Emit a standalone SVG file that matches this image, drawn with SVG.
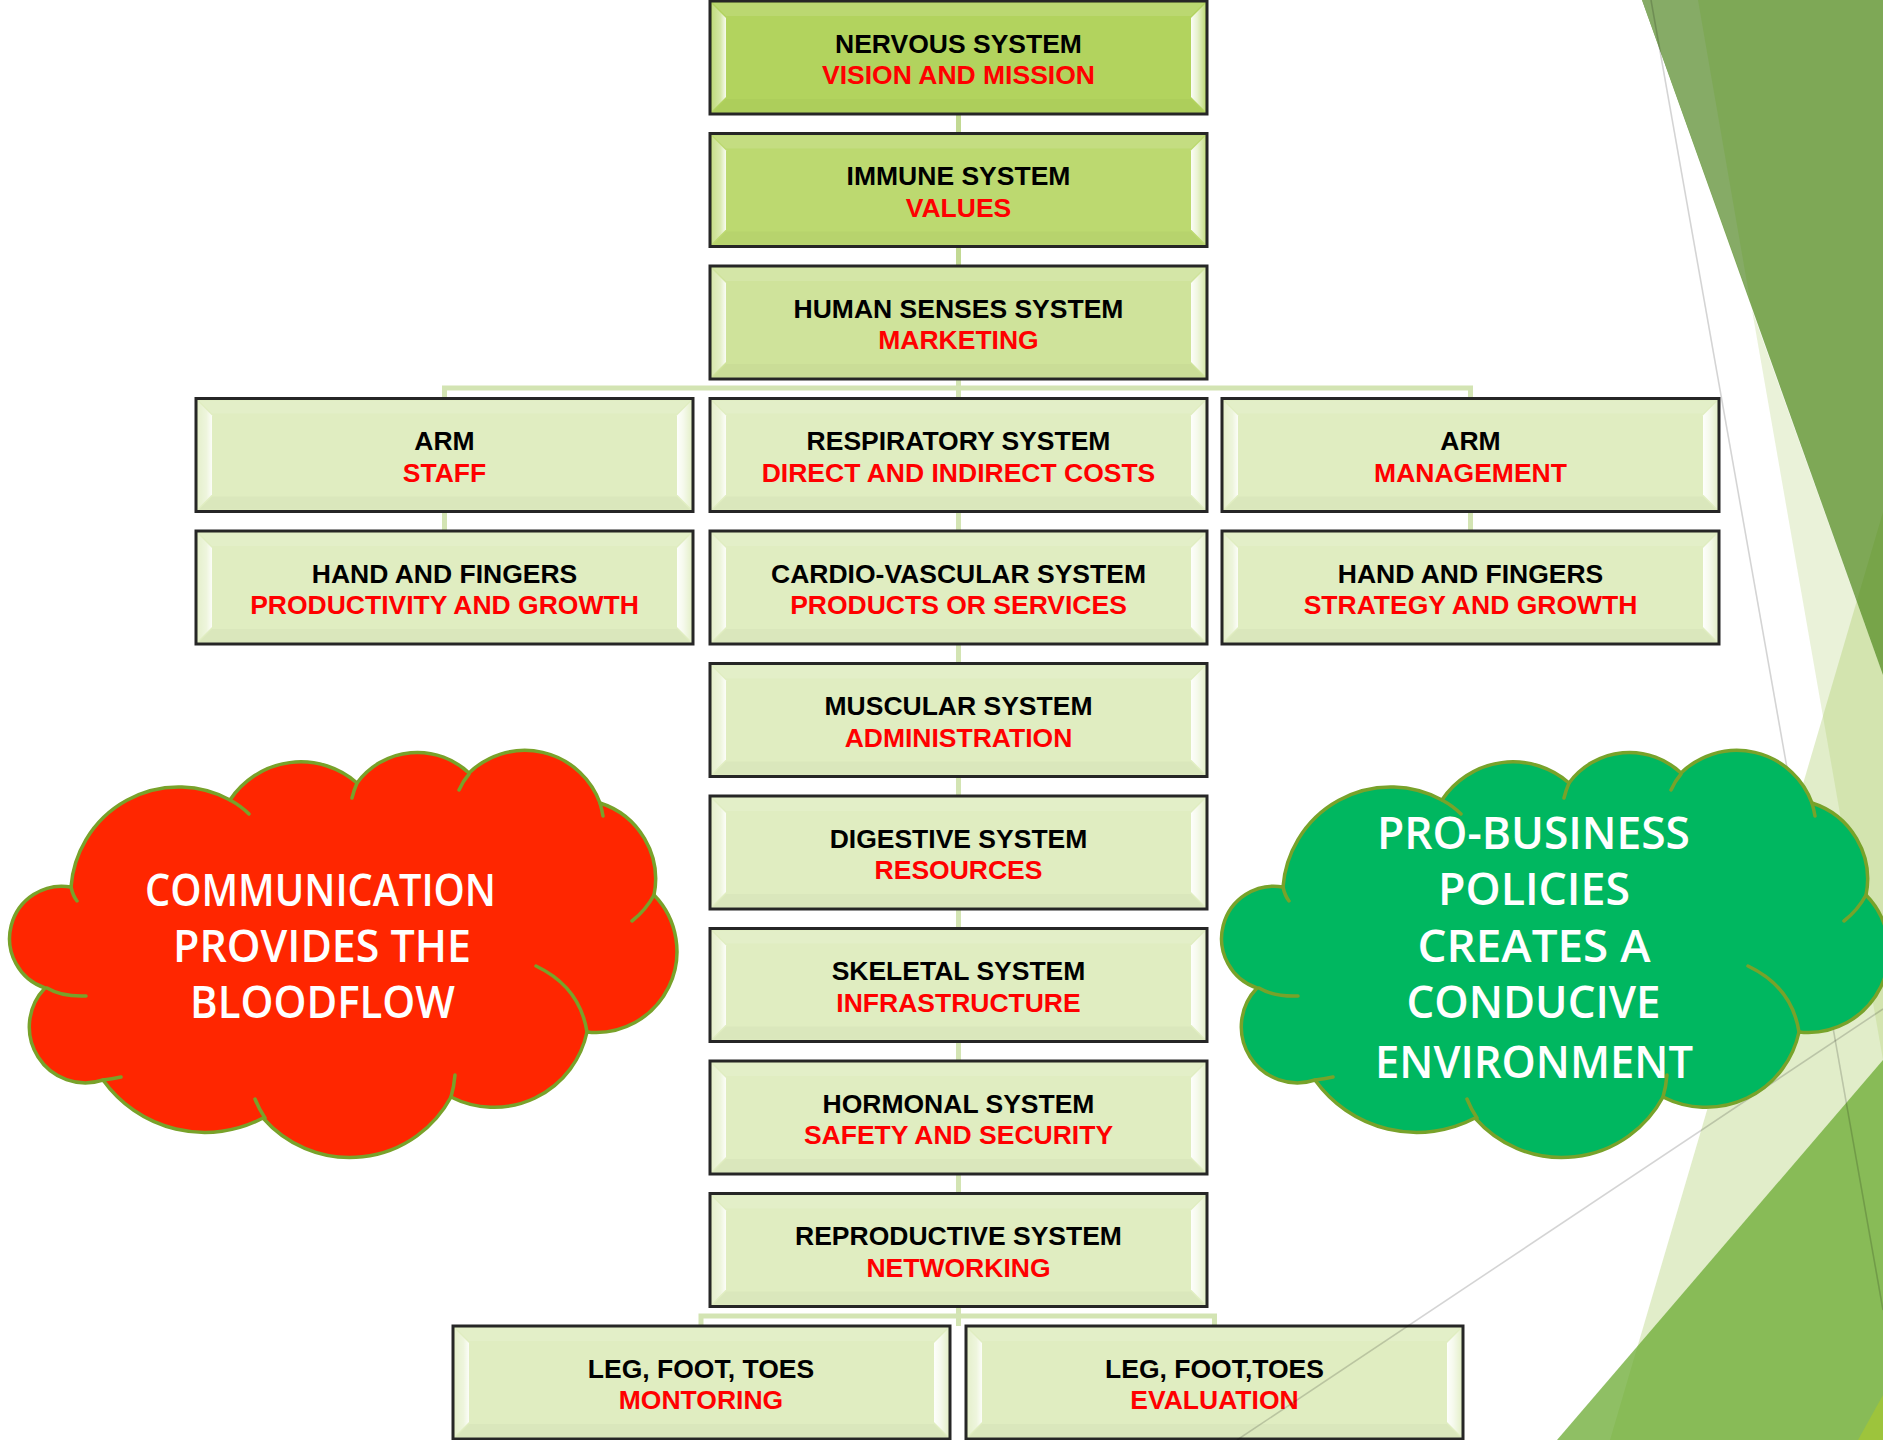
<svg xmlns="http://www.w3.org/2000/svg" xmlns:xlink="http://www.w3.org/1999/xlink" width="1883" height="1440" viewBox="0 0 1883 1440">
<style>
.bx{stroke:#262626;stroke-width:3}
.c1{fill:#b2d35e}.c2{fill:#bcd970}.c3{fill:#cfe39b}.c4{fill:#e0edc1}
.t1,.t2{font-family:"Liberation Sans",Arial,sans-serif;font-weight:bold;font-size:26.5px;text-anchor:middle}
.t1{fill:#000}.t2{fill:#ff0000}
.cn{fill:none;stroke:#d3e4b3;stroke-width:5}
.cnd{fill:none;stroke:#c2d993;stroke-width:5}
.cl{stroke:#78a22a;stroke-width:3.5}
.ci{fill:none;stroke:#78a22a;stroke-width:3.5;stroke-linecap:round}
.ct{font-family:"Open Sans","DejaVu Sans",sans-serif;font-weight:600;font-size:46px;fill:#fff;text-anchor:middle}
.ctr{font-size:45px}
.gl{stroke:#000;stroke-opacity:0.17;stroke-width:1.6;fill:none}
</style>
<defs>
<linearGradient id="gL" x1="0" y1="0" x2="1" y2="0">
<stop offset="0" stop-color="#fff" stop-opacity="0.2"/>
<stop offset="0.6" stop-color="#fff" stop-opacity="0.45"/>
<stop offset="1" stop-color="#fff" stop-opacity="0.9"/>
</linearGradient>
<linearGradient id="gR" x1="0" y1="0" x2="1" y2="0">
<stop offset="0" stop-color="#fff" stop-opacity="0.95"/>
<stop offset="0.45" stop-color="#fff" stop-opacity="0.7"/>
<stop offset="1" stop-color="#fff" stop-opacity="0.2"/>
</linearGradient>
<g id="bevel">
<polygon points="2,3 16,17 16,96 2,110" fill="url(#gL)"/>
<polygon points="495,3 481,17 481,96 495,110" fill="url(#gR)"/>
<polygon points="3,2 494,2 481,15 16,15" fill="#fff" opacity="0.12"/>
<polygon points="16,98 481,98 494,111 3,111" fill="#000" opacity="0.025"/>
</g>
<path id="cloud" d="M71,887 A108,108 0 0,1 230,800 A85,85 0 0,1 357,783 A75,75 0 0,1 469,773 A80,80 0 0,1 600,803 A80,80 0 0,1 654,895 A81,81 0 0,1 587,1032 A95,95 0 0,1 451,1097 A115,115 0 0,1 263,1118 A125,125 0 0,1 103,1080 A56,56 0 0,1 45,988 A52.3,52.3 0 0,1 71,887 Z"/>
<path id="cloudIn" d="M71,887 Q73,896 77,901 M230,800 Q241,806 249,814 M357,783 Q354,790 352,798 M469,774 Q463,781 459,790 M600,803 Q602,810 603,816 M654,895 Q646,910 632,921 M536,966 Q580,987 587,1032 M455,1075 Q454,1087 451,1097 M255,1099 Q259,1109 265,1118 M103,1080 Q112,1079 121,1077 M47,988 Q62,997 86,996"/>
</defs>
<rect x="0" y="0" width="1883" height="1440" fill="#fff"/>
<g id="background">
<polygon points="1752,310 1883,675 1883,1060" fill="#a5c85a" opacity="0.23"/>
<polygon points="1883,512 1610,1440 1883,1440" fill="#a5c85a" opacity="0.33"/>
<polygon points="1557,1440 1883,1060 1883,1440" fill="#6aaa30" opacity="0.75"/>
<polygon points="1858,1440 1883,1395 1883,1440" fill="#9dc43c"/>
<polygon points="1642,0 1883,0 1883,675" fill="#538b1e" opacity="0.75"/>
<polygon points="1642,0 1698,0 1750,300" fill="#86ab66"/>
<line class="gl" x1="1651" y1="0" x2="1883" y2="1310"/>
</g>
<g id="connectors">
<path class="cnd" d="M958.5,114 V266"/>
<path class="cn" d="M958.5,379 V1326"/>
<path class="cn" d="M444.5,398.5 V388 H1470.5 V398.5"/>
<path class="cn" d="M444.5,511 V531 M1470.5,511 V531"/>
<path class="cn" d="M701,1326 V1316 H1214.5 V1326"/>
</g>
<g id="n-nervous"><rect class="bx c1" x="710" y="1" width="497" height="113"/><use href="#bevel" x="710" y="1"/><text class="t1" x="958.5" y="52.5">NERVOUS SYSTEM</text><text class="t2" x="958.5" y="84">VISION AND MISSION</text></g>
<g id="n-immune"><rect class="bx c2" x="710" y="133.5" width="497" height="113"/><use href="#bevel" x="710" y="133.5"/><text class="t1" x="958.5" y="185">IMMUNE SYSTEM</text><text class="t2" x="958.5" y="216.5">VALUES</text></g>
<g id="n-senses"><rect class="bx c3" x="710" y="266" width="497" height="113"/><use href="#bevel" x="710" y="266"/><text class="t1" x="958.5" y="317.5">HUMAN SENSES SYSTEM</text><text class="t2" x="958.5" y="349">MARKETING</text></g>
<g id="n-arm-left"><rect class="bx c4" x="196" y="398.5" width="497" height="113"/><use href="#bevel" x="196" y="398.5"/><text class="t1" x="444.5" y="450">ARM</text><text class="t2" x="444.5" y="481.5">STAFF</text></g>
<g id="n-respiratory"><rect class="bx c4" x="710" y="398.5" width="497" height="113"/><use href="#bevel" x="710" y="398.5"/><text class="t1" x="958.5" y="450">RESPIRATORY SYSTEM</text><text class="t2" x="958.5" y="481.5">DIRECT AND INDIRECT COSTS</text></g>
<g id="n-arm-right"><rect class="bx c4" x="1222" y="398.5" width="497" height="113"/><use href="#bevel" x="1222" y="398.5"/><text class="t1" x="1470.5" y="450">ARM</text><text class="t2" x="1470.5" y="481.5">MANAGEMENT</text></g>
<g id="n-hand-left"><rect class="bx c4" x="196" y="531" width="497" height="113"/><use href="#bevel" x="196" y="531"/><text class="t1" x="444.5" y="582.5">HAND AND FINGERS</text><text class="t2" x="444.5" y="614">PRODUCTIVITY AND GROWTH</text></g>
<g id="n-cardio"><rect class="bx c4" x="710" y="531" width="497" height="113"/><use href="#bevel" x="710" y="531"/><text class="t1" x="958.5" y="582.5">CARDIO-VASCULAR SYSTEM</text><text class="t2" x="958.5" y="614">PRODUCTS OR SERVICES</text></g>
<g id="n-hand-right"><rect class="bx c4" x="1222" y="531" width="497" height="113"/><use href="#bevel" x="1222" y="531"/><text class="t1" x="1470.5" y="582.5">HAND AND FINGERS</text><text class="t2" x="1470.5" y="614">STRATEGY AND GROWTH</text></g>
<g id="n-muscular"><rect class="bx c4" x="710" y="663.5" width="497" height="113"/><use href="#bevel" x="710" y="663.5"/><text class="t1" x="958.5" y="715">MUSCULAR SYSTEM</text><text class="t2" x="958.5" y="746.5">ADMINISTRATION</text></g>
<g id="n-digestive"><rect class="bx c4" x="710" y="796" width="497" height="113"/><use href="#bevel" x="710" y="796"/><text class="t1" x="958.5" y="847.5">DIGESTIVE SYSTEM</text><text class="t2" x="958.5" y="879">RESOURCES</text></g>
<g id="n-skeletal"><rect class="bx c4" x="710" y="928.5" width="497" height="113"/><use href="#bevel" x="710" y="928.5"/><text class="t1" x="958.5" y="980">SKELETAL SYSTEM</text><text class="t2" x="958.5" y="1011.5">INFRASTRUCTURE</text></g>
<g id="n-hormonal"><rect class="bx c4" x="710" y="1061" width="497" height="113"/><use href="#bevel" x="710" y="1061"/><text class="t1" x="958.5" y="1112.5">HORMONAL SYSTEM</text><text class="t2" x="958.5" y="1144">SAFETY AND SECURITY</text></g>
<g id="n-reproductive"><rect class="bx c4" x="710" y="1193.5" width="497" height="113"/><use href="#bevel" x="710" y="1193.5"/><text class="t1" x="958.5" y="1245">REPRODUCTIVE SYSTEM</text><text class="t2" x="958.5" y="1276.5">NETWORKING</text></g>
<g id="n-leg-left"><rect class="bx c4" x="453" y="1326" width="497" height="113"/><use href="#bevel" x="453" y="1326"/><text class="t1" x="701" y="1377.5">LEG, FOOT, TOES</text><text class="t2" x="701" y="1409">MONTORING</text></g>
<g id="n-leg-right"><rect class="bx c4" x="966" y="1326" width="497" height="113"/><use href="#bevel" x="966" y="1326"/><text class="t1" x="1214.5" y="1377.5">LEG, FOOT,TOES</text><text class="t2" x="1214.5" y="1409">EVALUATION</text></g>
<line class="gl" x1="1237" y1="1440" x2="1883" y2="1009"/>
<g id="cloud-communication">
<use href="#cloud" class="cl" fill="#ff2600"/>
<use href="#cloudIn" class="ci"/>
<text class="ct ctr" x="320.5" y="906" textLength="351" lengthAdjust="spacingAndGlyphs">COMMUNICATION</text>
<text class="ct ctr" x="322" y="962" textLength="298" lengthAdjust="spacingAndGlyphs">PROVIDES THE</text>
<text class="ct ctr" x="322.5" y="1018" textLength="265" lengthAdjust="spacingAndGlyphs">BLOODFLOW</text>
</g>
<g id="cloud-probusiness">
<use href="#cloud" class="cl" fill="#00b760" transform="translate(1212,0)"/>
<use href="#cloudIn" class="ci" transform="translate(1212,0)"/>
<text class="ct" x="1533.5" y="849" textLength="313" lengthAdjust="spacingAndGlyphs">PRO-BUSINESS</text>
<text class="ct" x="1534" y="905" textLength="192" lengthAdjust="spacingAndGlyphs">POLICIES</text>
<text class="ct" x="1534" y="962" textLength="233" lengthAdjust="spacingAndGlyphs">CREATES A</text>
<text class="ct" x="1533.5" y="1018" textLength="254" lengthAdjust="spacingAndGlyphs">CONDUCIVE</text>
<text class="ct" x="1534" y="1078" textLength="318" lengthAdjust="spacingAndGlyphs">ENVIRONMENT</text>
</g>
</svg>
